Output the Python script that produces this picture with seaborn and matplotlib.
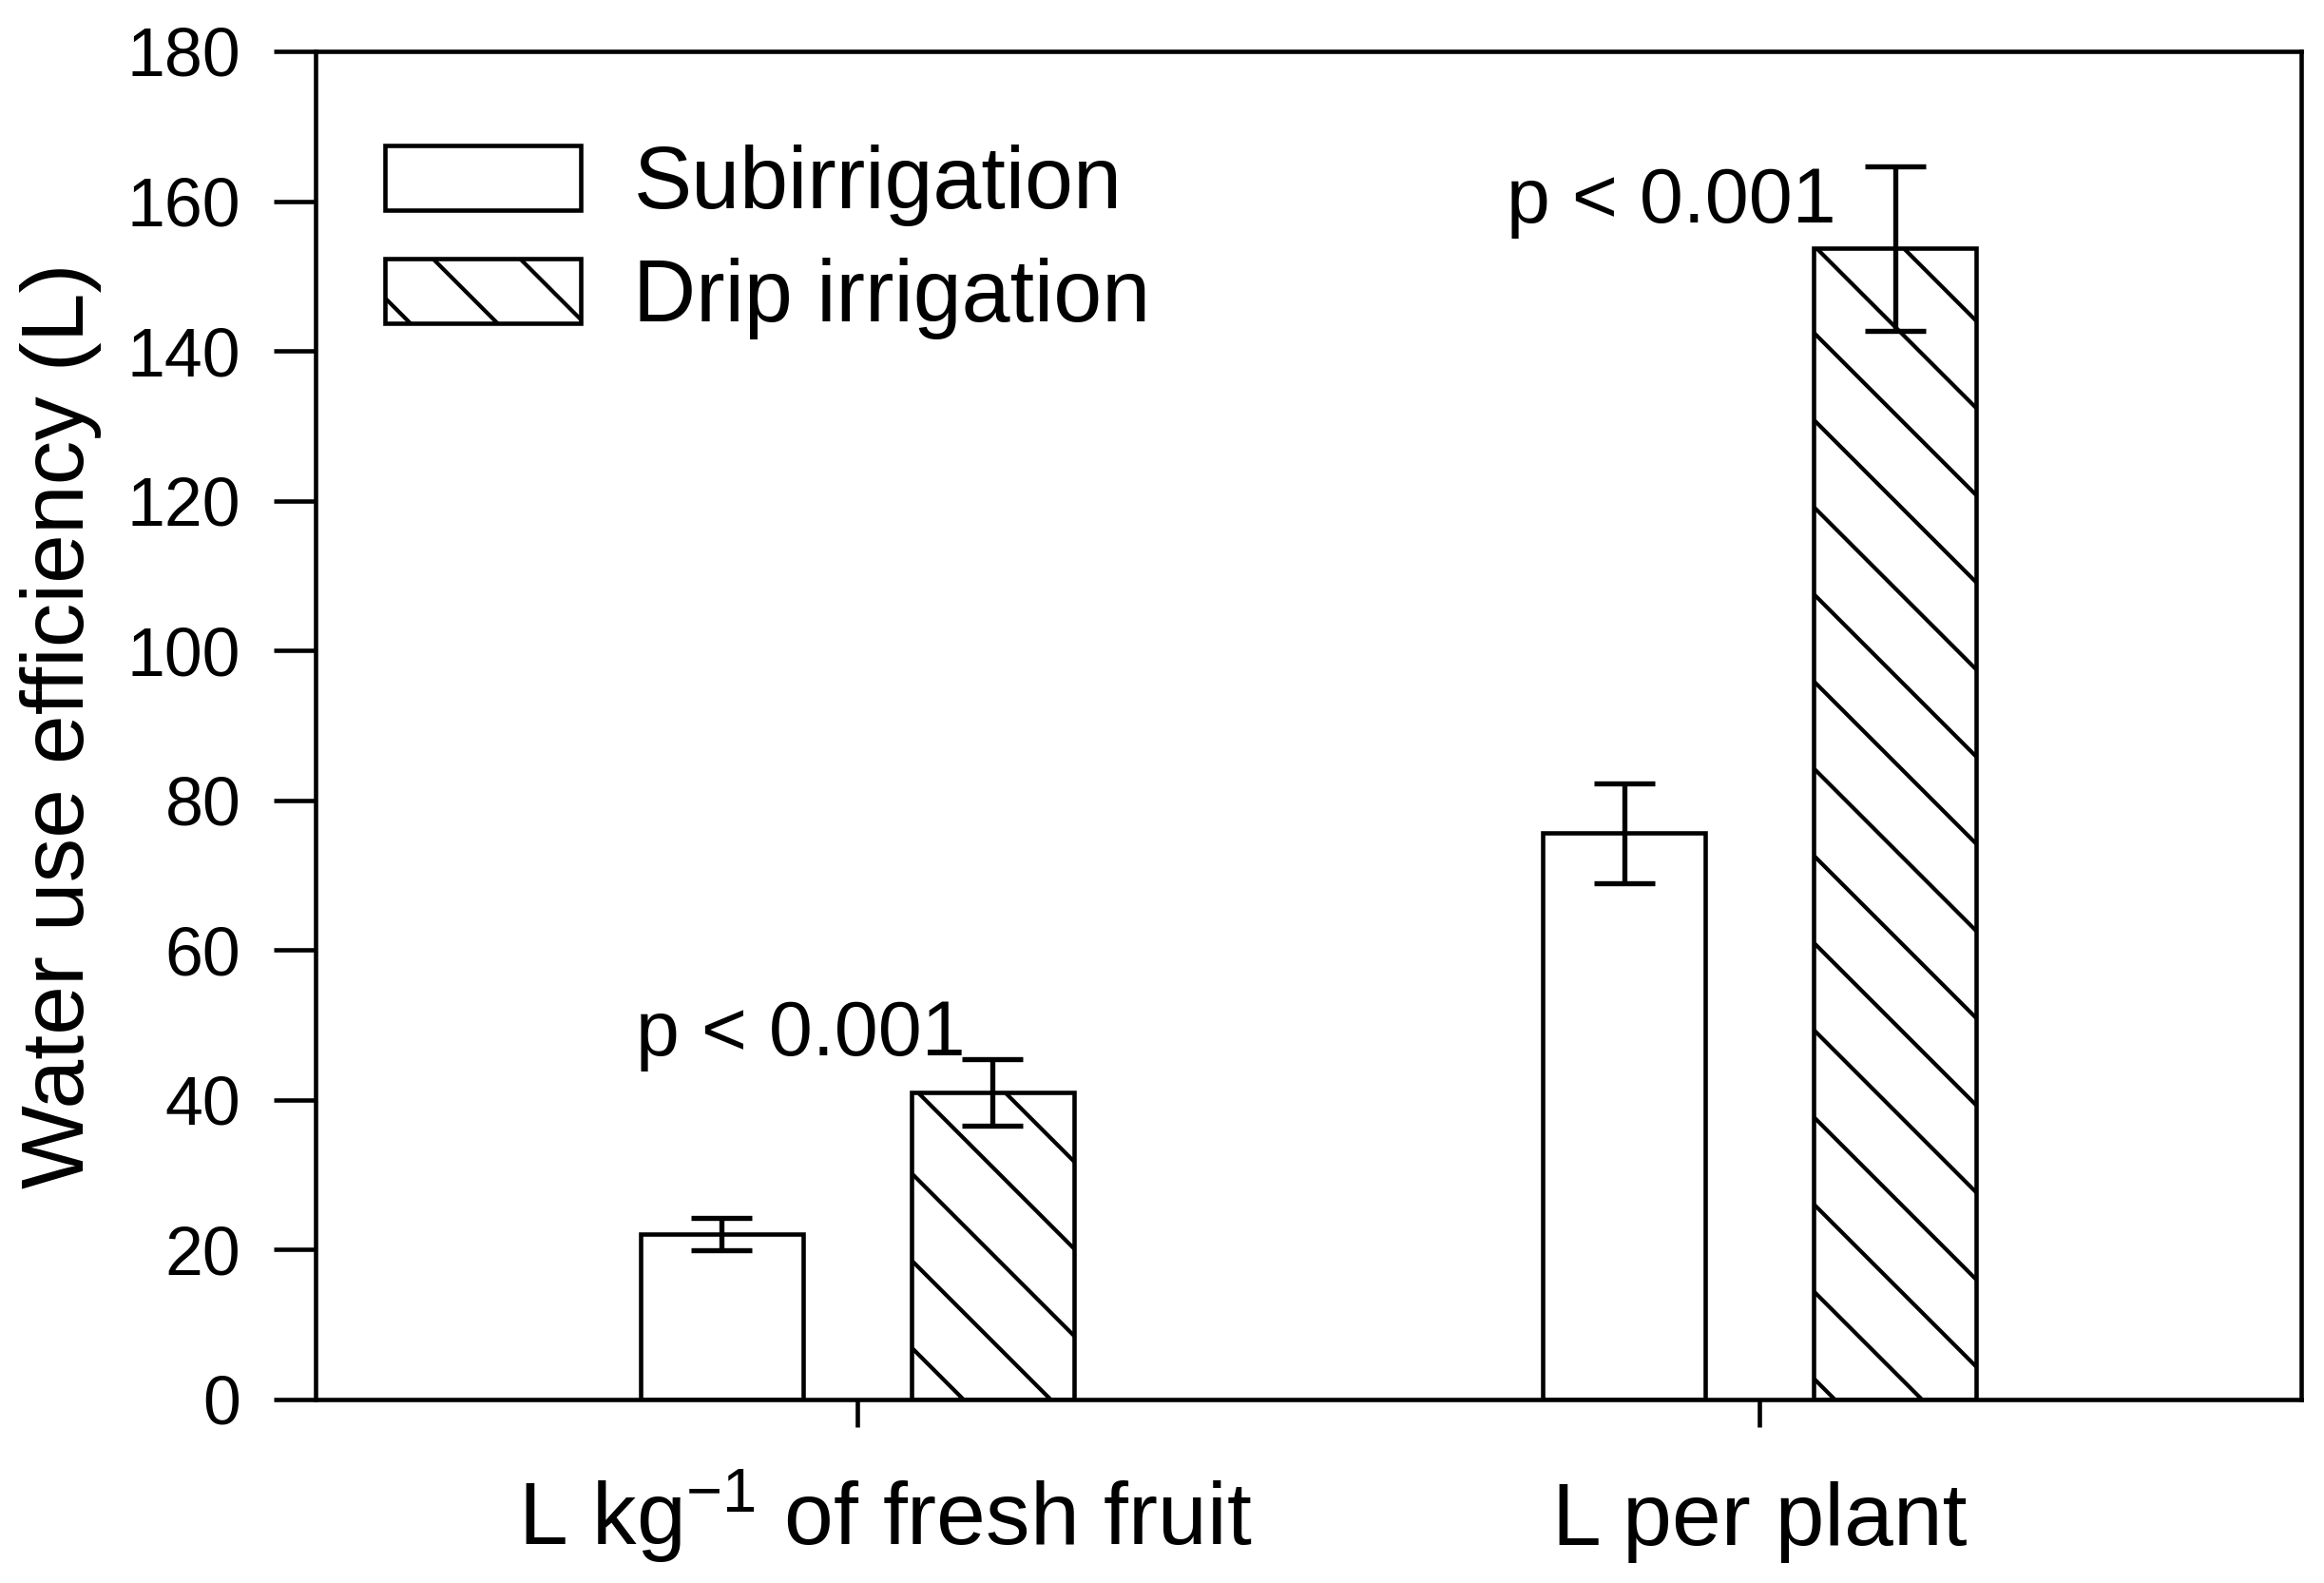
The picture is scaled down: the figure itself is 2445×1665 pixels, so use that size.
import numpy as np
import pandas as pd
import matplotlib
matplotlib.use("Agg")
import matplotlib.pyplot as plt
import matplotlib.transforms as mtransforms
import seaborn as sns

# values
categories = [r"L kg$^{-1}$ of fresh fruit", "L per plant"]
treatments = ["Subirrigation", "Drip irrigation"]
subirrigation = [22.1, 75.6]
subirrigation_err = [2.2, 6.7]
drip = [41.0, 153.7]
drip_err = [4.5, 11.0]
p_labels = ["p < 0.001", "p < 0.001"]
p_pos = [(-0.245, 46.0), (1 - 0.28, 157.1)]

df = pd.DataFrame({
    "category": categories * 2,
    "treatment": [treatments[0]] * 2 + [treatments[1]] * 2,
    "value": subirrigation + drip,
})
errs = {treatments[0]: subirrigation_err, treatments[1]: drip_err}

sns.set_style("ticks")
plt.rcParams["font.family"] = ["Liberation Sans", "DejaVu Sans"]
plt.rcParams["mathtext.fontset"] = "custom"
plt.rcParams["mathtext.rm"] = "Liberation Sans"
plt.rcParams["mathtext.it"] = "Liberation Sans:italic"
plt.rcParams["hatch.linewidth"] = 0.55
plt.rcParams["hatch.color"] = "black"
for k in ["text.color", "axes.labelcolor", "xtick.color", "ytick.color", "axes.edgecolor"]:
    plt.rcParams[k] = "black"

DPI = 550
fig = plt.figure(figsize=(2445 / DPI, 1665 / DPI), dpi=DPI)
ax = fig.add_axes([332 / 2445, 1 - 1472 / 1665, (2421 - 332) / 2445, (1472 - 54) / 1665])

sns.barplot(data=df, x="category", y="value", hue="treatment", hue_order=treatments,
            palette=["white", "white"], edgecolor="black", linewidth=0.6,
            width=0.6, gap=0.4, errorbar=None, legend=False, ax=ax)

# hatch for drip bars
for patch in ax.containers[1]:
    patch.set_hatch("\\\\")

# error bars on top of each bar
for cont, name in zip(ax.containers, treatments):
    xs = [p.get_x() + p.get_width() / 2 for p in cont]
    hs = [p.get_height() for p in cont]
    ax.errorbar(xs, hs, yerr=errs[name], fmt="none", ecolor="black",
                elinewidth=0.7, capsize=4.25, capthick=0.7, zorder=5)

for (px, py), lab in zip(p_pos, p_labels):
    ax.text(px, py, lab, ha="left", va="baseline", fontsize=10.8)

ax.set_xlim(-0.6, 1.6)
ax.set_ylim(0, 180)
ax.set_yticks(np.arange(0, 181, 20))
ax.set_xlabel("")
ax.set_ylabel("Water use efficiency (L)", fontsize=12.2, labelpad=3.5)

for s in ax.spines.values():
    s.set_visible(True)
    s.set_linewidth(0.6)
    s.set_color("black")

ax.tick_params(axis="y", direction="out", length=5.8, width=0.6, pad=4.5, labelsize=9.4)
ax.tick_params(axis="x", direction="out", length=3.8, width=0.6, pad=16.2, labelsize=12.2)
xlabels = ax.get_xticklabels()
for lab in xlabels:
    lab.set_va("baseline")
# first category label sits a bit right of its tick in the original
xlabels[0].set_transform(xlabels[0].get_transform()
                         + mtransforms.ScaledTranslation(30 / DPI, 0, fig.dpi_scale_trans))

ax.legend(ax.containers, treatments, loc="upper left", bbox_to_anchor=(0.035, 0.931),
          frameon=False, fontsize=12.0, handlelength=2.25, handleheight=0.77,
          handletextpad=0.6, labelspacing=0.36, borderpad=0, borderaxespad=0)

fig.savefig("out.png", dpi=DPI, facecolor="white")
